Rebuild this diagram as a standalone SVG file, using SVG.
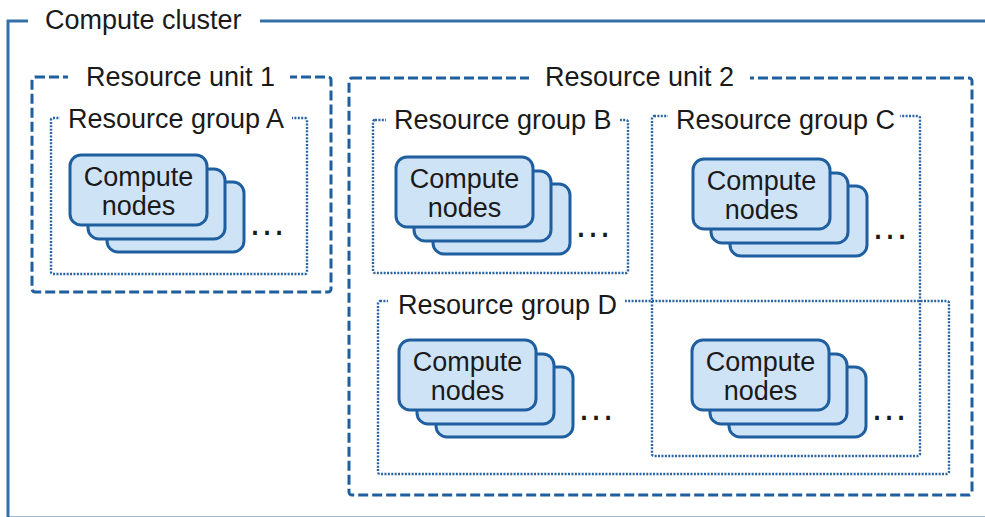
<svg xmlns="http://www.w3.org/2000/svg" width="985" height="517" viewBox="0 0 985 517">
<defs>
<style>
text{font-family:"Liberation Sans",Arial,sans-serif;font-size:27px;fill:#1a1a1a}
.cl{fill:none;stroke:#1f5f9f;stroke-width:3}
.unit{fill:none;stroke:#1f5f9f;stroke-width:3;stroke-dasharray:10 4}
.grp{fill:none;stroke:#2a64a0;stroke-width:2.4;stroke-dasharray:2 1.4}
.bg{fill:#ffffff}
.card{fill:#cfe3f7;stroke:#1f5f9f;stroke-width:3}
.dots{font-size:38px;fill:#1a1a1a}
</style>
<g id="stack">
<rect class="card" x="37" y="27" width="137" height="70" rx="11"/>
<rect class="card" x="18" y="14" width="137" height="70" rx="11"/>
<rect class="card" x="0" y="0" width="137" height="70" rx="11"/>
<text x="68.5" y="31" text-anchor="middle">Compute</text>
<text x="68.5" y="60" text-anchor="middle">nodes</text>
<text class="dots" x="178" y="80">…</text>
</g>
</defs>
<rect width="985" height="517" fill="#ffffff"/>
<g id="compute-cluster">
<rect class="cl" x="8" y="21" width="990" height="497" stroke-opacity="0.9"/>
<rect class="bg" x="28" y="8" width="232" height="28"/>
<text x="45" y="29">Compute cluster</text>
</g>
<g id="resource-unit-1">
<rect class="unit" x="32" y="77" width="299" height="215" rx="3"/>
<rect class="bg" x="68" y="64" width="222" height="26"/>
<text x="86" y="86">Resource unit 1</text>
</g>
<g id="resource-unit-2">
<rect class="unit" x="349" y="78" width="623" height="417" rx="3"/>
<rect class="bg" x="529" y="64" width="221" height="26"/>
<text x="545" y="86">Resource unit 2</text>
</g>
<g id="resource-group-a">
<rect class="grp" x="51" y="118" width="256" height="156" rx="2"/>
<rect class="bg" x="60" y="106" width="232" height="24"/>
<text x="68" y="128">Resource group A</text>
</g>
<g id="resource-group-b">
<rect class="grp" x="373" y="120" width="255" height="153" rx="2"/>
<rect class="bg" x="386" y="107" width="234" height="24"/>
<text x="394" y="129">Resource group B</text>
</g>
<g id="resource-group-d">
<rect class="grp" x="378" y="301" width="571" height="173" rx="2"/>
<rect class="bg" x="388" y="290" width="237" height="24"/>
<text x="398" y="314">Resource group D</text>
</g>
<g id="resource-group-c">
<rect class="grp" x="652" y="116" width="268" height="340" rx="2"/>
<rect class="bg" x="668" y="106" width="232" height="24"/>
<text x="676" y="129">Resource group C</text>
</g>
<g id="nodes-a"><use href="#stack" x="70" y="155"/></g>
<g id="nodes-b"><use href="#stack" x="396" y="157"/></g>
<g id="nodes-c"><use href="#stack" x="693" y="159"/></g>
<g id="nodes-d1"><use href="#stack" x="399" y="340"/></g>
<g id="nodes-d2"><use href="#stack" x="692" y="340"/></g>
<g id="connectors"></g>
</svg>
